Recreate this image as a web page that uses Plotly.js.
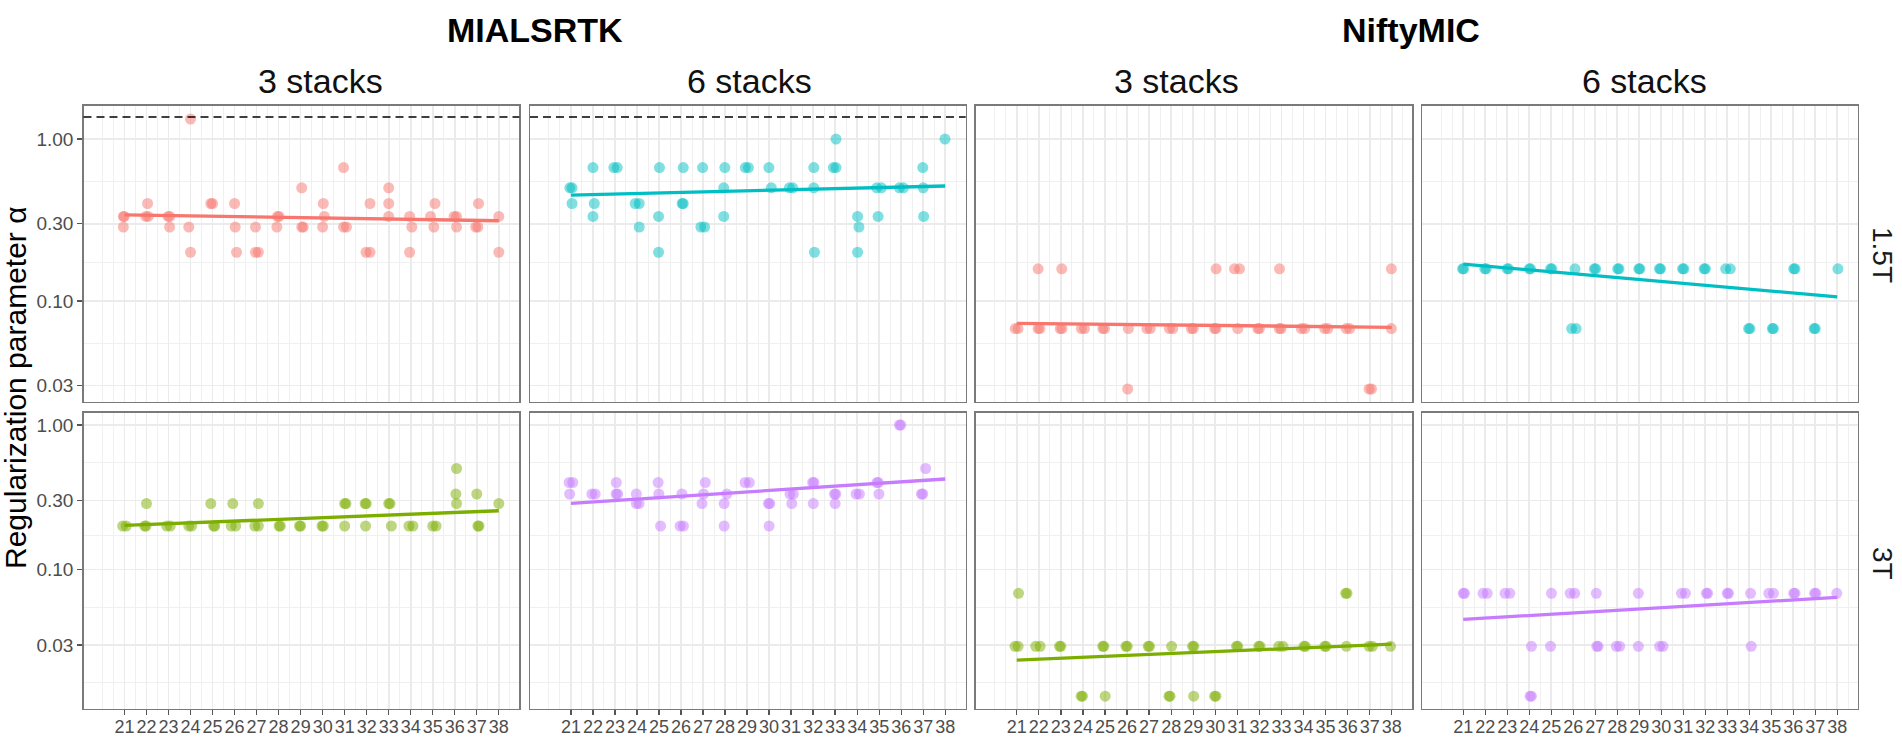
<!DOCTYPE html>
<html>
<head>
<meta charset="utf-8">
<script src="https://cdn.plot.ly/plotly-3.0.1.min.js"></script>
<style>html,body{margin:0;padding:0;background:#fff;}#chart{width:1902px;height:739px;}</style>
</head>
<body>
<div id="chart"></div>
<script>
// ---------------- DATA ----------------
const methods = ["MIALSRTK", "NiftyMIC"];
const stackLabels = ["3 stacks", "6 stacks"];
const fieldLabels = ["1.5T", "3T"];
const ageTicks = [21,22,23,24,25,26,27,28,29,30,31,32,33,34,35,36,37,38];
const alphaTicks = [0.03, 0.1, 0.3, 1];
const alphaTickText = ["0.03", "0.10", "0.30", "1.00"];
const searchUpperBound = 1.37;   // dashed line (MIALSRTK, 1.5T)
const trendAges = [21, 38];

// MIALSRTK, 3 stacks, 1.5T
const ageMial3_15 = [20.95,20.99,20.95, 22.05,21.97,22.08, 22.98,23.06,23.05, 24.0,23.92,24.0, 24.92,25.0, 26.0,26.03,26.09, 26.95,26.95,27.08, 27.95,28.02,27.92, 29.05,29.05,29.12, 30.03,30.08,30.0, 30.95,30.95,31.08, 31.97,32.15,32.15, 33.0,33.0,33.0, 33.95,34.05,33.95, 35.1,34.9,35.05, 35.97,36.08,36.08, 37.08,36.95,37.05, 38.0,38.0];
const alphaMial3_15 = [0.333,0.333,0.286, 0.4,0.333,0.333, 0.333,0.333,0.286, 1.33,0.286,0.2, 0.4,0.4, 0.4,0.286,0.2, 0.286,0.2,0.2, 0.333,0.333,0.286, 0.5,0.286,0.286, 0.4,0.333,0.286, 0.667,0.286,0.286, 0.2,0.2,0.4, 0.5,0.4,0.333, 0.333,0.286,0.2, 0.4,0.333,0.286, 0.333,0.333,0.286, 0.4,0.286,0.286, 0.333,0.2];
const trendMial3_15 = [0.340, 0.313];

// MIALSRTK, 6 stacks, 1.5T
const ageMial6_15 = [20.95,21.05,21.05, 22.0,22.06,22.0, 22.95,23.1, 23.92,24.1,24.1, 25.02,24.98,24.98, 26.1,26.05,26.1, 26.98,26.9,27.07, 27.99,27.94,27.94, 28.92,29.06, 29.99,30.1, 30.92,31.07, 32.03,32.03,32.06, 33.04,32.92,33.04, 34.02,34.08,34.02, 34.89,35.1,34.95, 35.92,36.1, 36.98,37.0,37.02, 37.99];
const alphaMial6_15 = [0.5,0.5,0.4, 0.667,0.4,0.333, 0.667,0.667, 0.4,0.4,0.286, 0.667,0.333,0.2, 0.667,0.4,0.4, 0.667,0.286,0.286, 0.667,0.5,0.333, 0.667,0.667, 0.667,0.5, 0.5,0.5, 0.667,0.5,0.2, 1.0,0.667,0.667, 0.333,0.286,0.2, 0.5,0.5,0.333, 0.5,0.5, 0.667,0.5,0.333, 1.0];
const trendMial6_15 = [0.451, 0.513];

// NiftyMIC, 3 stacks, 1.5T
const ageNifty3_15 = [20.93,21.06, 21.97,21.97,22.05, 23.04,22.97,23.05, 23.93,24.07, 24.9,24.98, 26.06,26.03, 26.9,27.05, 27.92,28.07, 28.92,29.0, 30.04,29.97,30.03, 30.87,31.1,31.02, 31.93,32.0, 32.91,32.9,32.98, 33.9,34.05, 34.96,35.1, 35.94,36.09, 36.97,37.08, 37.98,37.98];
const alphaNifty3_15 = [0.0675,0.0675, 0.158,0.0675,0.0675, 0.158,0.0675,0.0675, 0.0675,0.0675, 0.0675,0.0675, 0.0675,0.0286, 0.0675,0.0675, 0.0675,0.0675, 0.0675,0.0675, 0.158,0.0675,0.0675, 0.158,0.158,0.0675, 0.0675,0.0675, 0.158,0.0675,0.0675, 0.0675,0.0675, 0.0675,0.0675, 0.0675,0.0675, 0.0286,0.0286, 0.158,0.0675];
const trendNifty3_15 = [0.0728, 0.0688];

// NiftyMIC, 6 stacks, 1.5T
const ageNifty6_15 = [20.97,21.02, 21.98,22.05, 23.0,23.06, 24.0,24.06, 24.97,25.03, 26.08,25.93,26.13, 26.96,27.02, 28.02,28.08, 28.98,29.03, 29.92,29.97, 30.97,31.03, 31.95,32.01, 32.93,33.14, 33.97,34.03, 35.05,35.1, 36.02,36.08, 36.95,37.0, 38.03];
const alphaNifty6_15 = [0.158,0.158, 0.158,0.158, 0.158,0.158, 0.158,0.158, 0.158,0.158, 0.158,0.0675,0.0675, 0.158,0.158, 0.158,0.158, 0.158,0.158, 0.158,0.158, 0.158,0.158, 0.158,0.158, 0.158,0.158, 0.0675,0.0675, 0.0675,0.0675, 0.158,0.158, 0.0675,0.0675, 0.158];
const trendNifty6_15 = [0.169, 0.106];

// MIALSRTK, 3 stacks, 3T
const ageMial3_3 = [20.92,21.08, 22.0,21.92,21.98, 22.92,23.08, 23.92,24.05, 24.92,25.05,25.1, 25.92,25.85,26.05, 27.08,26.92,27.08, 28.02,28.08, 28.95,29.0, 29.97,30.03, 31.0,31.06,31.0, 31.93,31.98,31.95, 33.0,33.06,33.12, 33.92,34.1, 35.0,35.15, 36.08,36.05,36.08, 37.0,37.05,37.1, 38.0];
const alphaMial3_3 = [0.2,0.2, 0.286,0.2,0.2, 0.2,0.2, 0.2,0.2, 0.286,0.2,0.2, 0.286,0.2,0.2, 0.286,0.2,0.2, 0.2,0.2, 0.2,0.2, 0.2,0.2, 0.286,0.286,0.2, 0.286,0.286,0.2, 0.286,0.286,0.2, 0.2,0.2, 0.2,0.2, 0.5,0.333,0.286, 0.333,0.2,0.2, 0.286];
const trendMial3_3 = [0.202, 0.255];

// MIALSRTK, 6 stacks, 3T
const ageMial6_3 = [20.92,21.08,20.94, 21.95,22.1, 23.06,23.05,23.12, 23.97,23.97,24.09, 24.96,24.99,25.07, 26.04,25.96,26.11, 27.1,27.02,26.95, 28.08,27.96,27.96, 28.91,29.1, 29.97,30.03,30.0, 30.95,31.1,31.03, 31.98,32.04,32.01, 32.97,33.03,33.0, 33.95,34.1, 34.9,34.96,34.99, 35.92,35.98, 37.11,36.92,36.98];
const alphaMial6_3 = [0.4,0.4,0.333, 0.333,0.333, 0.4,0.333,0.333, 0.333,0.286,0.286, 0.4,0.333,0.2, 0.333,0.2,0.2, 0.4,0.333,0.286, 0.333,0.286,0.2, 0.4,0.4, 0.286,0.286,0.2, 0.333,0.333,0.286, 0.4,0.4,0.286, 0.333,0.333,0.286, 0.333,0.333, 0.4,0.4,0.333, 1.0,1.0, 0.5,0.333,0.333];
const trendMial6_3 = [0.287, 0.423];

// NiftyMIC, 3 stacks, 3T
const ageNifty3_3 = [21.08,20.92,21.06, 21.86,22.06, 22.94,23.0, 23.92,23.98, 24.9,24.95,25.01, 25.95,26.01, 26.96,27.02, 28.02,27.9,27.95, 28.97,29.03,29.02, 29.97,30.03, 30.96,31.02, 31.97,32.03, 32.88,33.07, 34.02,34.08, 34.96,35.02, 35.91,35.97,35.94, 36.97,37.12, 37.94];
const alphaNifty3_3 = [0.0684,0.0294,0.0294, 0.0294,0.0294, 0.0294,0.0294, 0.0133,0.0133, 0.0294,0.0294,0.0133, 0.0294,0.0294, 0.0294,0.0294, 0.0294,0.0133,0.0133, 0.0294,0.0294,0.0133, 0.0133,0.0133, 0.0294,0.0294, 0.0294,0.0294, 0.0294,0.0294, 0.0294,0.0294, 0.0294,0.0294, 0.0684,0.0684,0.0294, 0.0294,0.0294, 0.0294];
const trendNifty3_3 = [0.0236, 0.0305];

// NiftyMIC, 6 stacks, 3T
const ageNifty6_3 = [21.0,21.06, 21.9,22.09, 22.9,23.12, 24.1,24.04,24.1, 25.01,24.97, 25.86,26.07, 27.05,27.07,27.13, 27.96,28.11, 28.96,28.96, 29.93,30.08, 30.92,31.1, 32.05,32.11, 33.0,33.06, 34.06,34.09, 34.89,35.1, 36.02,36.08, 36.97,37.03, 37.98];
const alphaNifty6_3 = [0.0684,0.0684, 0.0684,0.0684, 0.0684,0.0684, 0.0294,0.0133,0.0133, 0.0684,0.0294, 0.0684,0.0684, 0.0684,0.0294,0.0294, 0.0294,0.0294, 0.0684,0.0294, 0.0294,0.0294, 0.0684,0.0684, 0.0684,0.0684, 0.0684,0.0684, 0.0684,0.0294, 0.0684,0.0684, 0.0684,0.0684, 0.0684,0.0684, 0.0684];
const trendNifty6_3 = [0.0452, 0.0642];

// ---------------- STYLE / LAYOUT ----------------
const W = 1902, H = 739;
const colPx = [[83.5,519.3],[530,965.7],[975.7,1412.3],[1422.3,1857.7]];
const rowPx = [[105.7,401.7],[412.7,709]];
const xRange = [19.14, 38.93];
const yRanges = [[-1.622, 0.206], [-1.965, 0.085]];
const rowColors = [["#F8766D", "#00BFC4"], ["#7CAE00", "#C77CFF"]];
const FONT = "Liberation Sans, Arial, Helvetica, sans-serif";
const XTICKSIZE = 18, YTICKSIZE = 19;

const panels = [
  {row:0,col:0,x:ageMial3_15,y:alphaMial3_15,t:trendMial3_15,dash:true},
  {row:0,col:1,x:ageMial6_15,y:alphaMial6_15,t:trendMial6_15,dash:true},
  {row:0,col:2,x:ageNifty3_15,y:alphaNifty3_15,t:trendNifty3_15},
  {row:0,col:3,x:ageNifty6_15,y:alphaNifty6_15,t:trendNifty6_15},
  {row:1,col:0,x:ageMial3_3,y:alphaMial3_3,t:trendMial3_3},
  {row:1,col:1,x:ageMial6_3,y:alphaMial6_3,t:trendMial6_3},
  {row:1,col:2,x:ageNifty3_3,y:alphaNifty3_3,t:trendNifty3_3},
  {row:1,col:3,x:ageNifty6_3,y:alphaNifty6_3,t:trendNifty6_3}
];

// minor grid positions (ggplot-style midpoints)
const xMinor = [];
for (let v = 20; v <= 38.5; v += 0.5) { if (!ageTicks.includes(v)) xMinor.push(v); }
const lt = alphaTicks.map(Math.log10);
const yMinor = [Math.pow(10, lt[0] - (lt[1]-lt[0])/2)];
for (let i = 0; i < lt.length - 1; i++) yMinor.push(Math.pow(10, (lt[i]+lt[i+1])/2));
yMinor.push(Math.pow(10, lt[lt.length-1] + (lt[1]-lt[0])/2));

const data = [];
const layout = {
  width: W, height: H, autosize: false,
  margin: {l:0, r:0, t:0, b:0, pad:0},
  paper_bgcolor: "#ffffff", plot_bgcolor: "#ffffff",
  showlegend: false,
  font: {family: FONT, color: "#4d4d4d", size: YTICKSIZE},
  shapes: [], annotations: []
};

panels.forEach((p, i) => {
  const k = i + 1;
  const sfx = k === 1 ? "" : String(k);
  const color = rowColors[p.row][p.col % 2];
  data.push({
    type: "scatter", mode: "markers", x: p.x, y: p.y,
    xaxis: "x" + sfx, yaxis: "y" + sfx,
    marker: {color: color, size: 11, opacity: 0.5, line: {width: 0}},
    hoverinfo: "x+y"
  });
  data.push({
    type: "scatter", mode: "lines", x: trendAges, y: p.t,
    xaxis: "x" + sfx, yaxis: "y" + sfx,
    line: {color: color, width: 3.3}, hoverinfo: "skip"
  });
  const [l, r] = colPx[p.col];
  const [t, b] = rowPx[p.row];
  layout["xaxis" + sfx] = {
    domain: [l / W, r / W], range: xRange, anchor: "y" + sfx,
    tickmode: "array", tickvals: ageTicks, ticktext: ageTicks.map(String),
    tickangle: 0, ticklabelstandoff: -4,
    showticklabels: p.row === 1, ticks: p.row === 1 ? "outside" : "",
    ticklen: 5, tickwidth: 1.3, tickcolor: "#555555",
    tickfont: {family: FONT, size: XTICKSIZE, color: "#4d4d4d"},
    showgrid: true, gridcolor: "#ebebeb", gridwidth: 1.6,
    minor: {tickmode: "array", tickvals: xMinor, showgrid: true, gridcolor: "#f0f0f0", gridwidth: 1, ticks: ""},
    zeroline: false, showline: true, mirror: true, linecolor: "#7a7a7a", linewidth: 1.3,
    fixedrange: true
  };
  layout["yaxis" + sfx] = {
    domain: [1 - b / H, 1 - t / H], type: "log", range: yRanges[p.row], anchor: "x" + sfx,
    tickmode: "array", tickvals: alphaTicks, ticktext: alphaTickText,
    showticklabels: p.col === 0, ticks: p.col === 0 ? "outside" : "",
    ticklen: 5, tickwidth: 1.3, tickcolor: "#555555",
    tickfont: {family: FONT, size: YTICKSIZE, color: "#4d4d4d"},
    showgrid: true, gridcolor: "#ebebeb", gridwidth: 1.6,
    minor: {tickmode: "array", tickvals: yMinor, showgrid: true, gridcolor: "#f0f0f0", gridwidth: 1, ticks: ""},
    zeroline: false, showline: true, mirror: true, linecolor: "#7a7a7a", linewidth: 1.3,
    fixedrange: true
  };
  if (p.dash) {
    layout.shapes.push({
      type: "line", xref: "x" + sfx + " domain", x0: 0, x1: 1,
      yref: "y" + sfx, y0: searchUpperBound, y1: searchUpperBound,
      line: {color: "#000000", width: 1.5, dash: "8px,5px"}, layer: "above"
    });
  }
});

function ann(text, px, py, size, opts) {
  return Object.assign({
    text: text, xref: "paper", yref: "paper", x: px / W, y: 1 - py / H,
    xanchor: "center", yanchor: "middle", showarrow: false,
    font: {family: FONT, size: size, color: "#000000"}
  }, opts || {});
}
// method headers
layout.annotations.push(ann("<b>" + methods[0] + "</b>", 535, 30.5, 34));
layout.annotations.push(ann("<b>" + methods[1] + "</b>", 1411, 30.5, 34));
// stack strips
const stripX = [320.8, 749, 1176.7, 1644.5];
stripX.forEach((sx, c) => layout.annotations.push(ann(stackLabels[c % 2], sx, 81.3, 34, {font: {family: FONT, size: 34, color: "#111111"}})));
// field strips
layout.annotations.push(ann(fieldLabels[0], 1883, 255, 28, {textangle: 90, font: {family: FONT, size: 28, color: "#1a1a1a"}}));
layout.annotations.push(ann(fieldLabels[1], 1883, 563, 28, {textangle: 90, font: {family: FONT, size: 28, color: "#1a1a1a"}}));
// y-axis title
layout.annotations.push(ann("Regularization parameter α", 15, 388, 30, {textangle: -90, font: {family: FONT, size: 30, color: "#000000"}}));

Plotly.newPlot("chart", data, layout, {displayModeBar: false, staticPlot: true});
</script>
</body>
</html>
